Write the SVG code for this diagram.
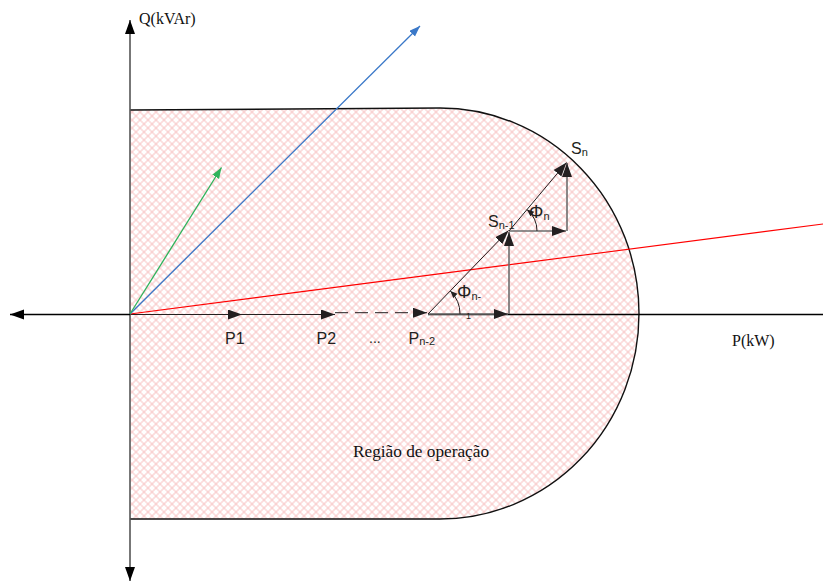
<svg xmlns="http://www.w3.org/2000/svg" width="823" height="582" viewBox="0 0 823 582">
<style>
.sans{font-family:"Liberation Sans",Arial,sans-serif;fill:#231f20}
.serif{font-family:"Liberation Serif","Times New Roman",serif;fill:#111}
.ax{stroke:#000;stroke-width:1.3;fill:none}
.vax{stroke:#555;stroke-width:1.6;fill:none}
.vec{stroke:#231f20;stroke-width:1;fill:none}
.gvec{stroke:#6d6d6d;stroke-width:1.6;fill:none}
</style>
<defs>
<pattern id="hatch" width="5.657" height="5.657" patternUnits="userSpaceOnUse" patternTransform="rotate(45)">
<path d="M0,2.83 H5.657 M2.83,0 V5.657" stroke="#f8c0c0" stroke-width="1"/>
</pattern>
<marker id="axa" markerUnits="userSpaceOnUse" markerWidth="15" markerHeight="11" refX="14" refY="5" orient="auto">
<path d="M0,0 L14,5 L0,10 Z" fill="#000"/>
</marker>
<marker id="va" markerUnits="userSpaceOnUse" markerWidth="15" markerHeight="11" refX="14" refY="5" orient="auto">
<path d="M0,0 L14,5 L0,10 Z" fill="#231f20"/>
</marker>
<marker id="ba" markerUnits="userSpaceOnUse" markerWidth="12" markerHeight="9" refX="11" refY="4" orient="auto">
<path d="M0,0 L11,4 L0,8 Z" fill="#3a78c8"/>
</marker>
<marker id="ga" markerUnits="userSpaceOnUse" markerWidth="12" markerHeight="9" refX="11" refY="4" orient="auto">
<path d="M0,0 L11,4 L0,8 Z" fill="#2fb35c"/>
</marker>
<marker id="sa" markerUnits="userSpaceOnUse" markerWidth="8" markerHeight="7" refX="7" refY="3" orient="auto">
<path d="M0,0 L7,3 L0,6 Z" fill="#231f20"/>
</marker>
</defs>

<g id="region">
<path d="M130,110 L440,108 A199,205.5 0 0 1 440,519 L130,519 Z" fill="url(#hatch)" stroke="none"/>
<path d="M130,110 L440,108 A199,205.5 0 0 1 440,519 L130,519" fill="none" stroke="#111" stroke-width="1.4"/>
</g>

<g id="connectors">
<line x1="130" y1="314" x2="130" y2="20" class="vax" marker-end="url(#axa)"/>
<line x1="130" y1="314" x2="130" y2="581" class="vax" marker-end="url(#axa)"/>
<line x1="130" y1="314.5" x2="10" y2="314.5" class="ax" marker-end="url(#axa)"/>
<line x1="130" y1="314.5" x2="242" y2="314.5" class="vec" marker-end="url(#va)"/>
<line x1="242" y1="314.5" x2="335" y2="314.5" class="vec" marker-end="url(#va)"/>
<line x1="335" y1="312.7" x2="427" y2="312.7" class="vec" stroke-dasharray="13,7" marker-end="url(#va)"/>
<line x1="428" y1="314.5" x2="823" y2="314.5" class="ax"/>
<line x1="130" y1="314" x2="823" y2="224" stroke="#ff0000" stroke-width="1.1"/>
<line x1="130" y1="314" x2="420" y2="26" stroke="#3a78c8" stroke-width="1.3" marker-end="url(#ba)"/>
<line x1="130" y1="314" x2="221.5" y2="167.5" stroke="#2fb35c" stroke-width="1.3" marker-end="url(#ga)"/>
<line x1="428" y1="314" x2="508" y2="314" class="gvec" marker-end="url(#va)"/>
<line x1="509" y1="314" x2="509" y2="232" class="gvec" marker-end="url(#va)"/>
<line x1="428" y1="314" x2="508.5" y2="230.5" class="vec" marker-end="url(#va)"/>
<line x1="509" y1="231" x2="566" y2="231" class="gvec" marker-end="url(#va)"/>
<line x1="567" y1="231" x2="567" y2="163" class="gvec" marker-end="url(#va)"/>
<line x1="509" y1="231" x2="566.5" y2="162.5" class="vec" marker-end="url(#va)"/>
<path d="M537,231 A28,28 0 0 0 527,209.6" class="vec" marker-end="url(#sa)"/>
<path d="M460,314 A32,32 0 0 0 450.4,291.1" class="vec" marker-end="url(#sa)"/>
</g>

<g id="labels">
<text x="139" y="24" class="serif" font-size="16">Q(kVAr)</text>
<text x="732" y="346" class="serif" font-size="16">P(kW)</text>
<text x="353" y="457" class="serif" font-size="16" textLength="136" lengthAdjust="spacingAndGlyphs">Região de operação</text>
<text x="225" y="343.5" class="sans" font-size="16">P1</text>
<text x="316.5" y="343.5" class="sans" font-size="16">P2</text>
<text x="369" y="343" class="sans" font-size="14">...</text>
<text x="408.5" y="343.5" class="sans" font-size="16">P<tspan font-size="11" dy="1.5">n-2</tspan></text>
<text x="571" y="154" class="sans" font-size="16">S<tspan font-size="11" dy="1.5">n</tspan></text>
<text x="488" y="227" class="sans" font-size="16">S<tspan font-size="11" dy="1.5">n-1</tspan></text>
<text x="529" y="218" class="sans" font-size="18">Φ<tspan font-size="11" dy="1.5">n</tspan></text>
<text x="457" y="298" class="sans" font-size="18">Φ<tspan font-size="11" dy="1.5">n-</tspan></text>
<text x="466" y="319" class="sans" font-size="9">1</text>
</g>
</svg>
